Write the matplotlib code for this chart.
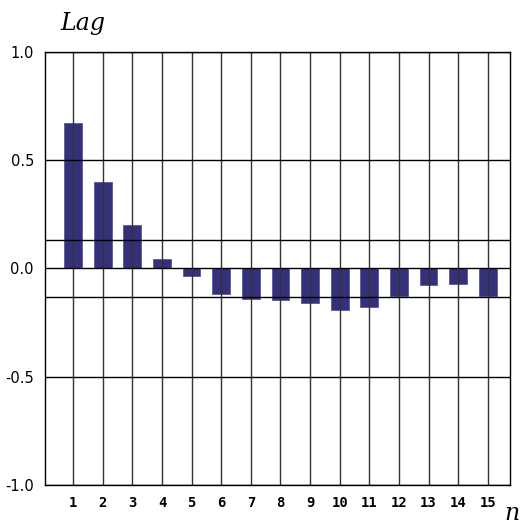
import matplotlib
matplotlib.use("Agg")
import matplotlib.pyplot as plt
import numpy as np

# lag values
lags = list(range(1, 16))
acf = [0.67, 0.40, 0.20, 0.042, -0.037, -0.116, -0.14, -0.144,
       -0.158, -0.19, -0.18, -0.126, -0.075, -0.07, -0.126]
conf = 0.13
yticks = [-1.0, -0.5, 0.0, 0.5, 1.0]
ytick_labels = ["-1.0", "-0.5", "0.0", "0.5", "1.0"]

fig = plt.figure(figsize=(5.25, 5.25), dpi=100)
ax = fig.add_axes([0.0857, 0.0762, 0.8857, 0.8248])

ax.bar(lags, acf, width=0.6, color="#34307a", edgecolor="#5a56a0",
       linewidth=0.6, zorder=2)

# grid drawn over the bars
for x in lags:
    ax.axvline(x, color="#333333", linewidth=1.0, zorder=3)
for y in yticks:
    ax.axhline(y, color="black", linewidth=1.0, zorder=3)
ax.axhline(conf, color="black", linewidth=1.0, zorder=3)
ax.axhline(-conf, color="black", linewidth=1.0, zorder=3)

ax.set_xlim(0.05, 15.75)
ax.set_ylim(-1.0, 1.0)
ax.set_xticks(lags)
ax.set_xticklabels([str(v) for v in lags], fontsize=10, fontweight="bold",
                   family="DejaVu Sans Mono")
ax.set_yticks(yticks)
ax.set_yticklabels(ytick_labels, fontsize=10.5)
ax.tick_params(length=0, pad=8)
for s in ax.spines.values():
    s.set_color("black")
    s.set_linewidth(1.0)
    s.set_zorder(4)

fig.text(0.115, 0.955, "Lag", fontsize=17, style="italic",
         family="DejaVu Serif", ha="left", va="center")
fig.text(0.976, 0.022, "n", fontsize=17, style="italic",
         family="DejaVu Serif", ha="center", va="center")

fig.savefig("out.png", dpi=100)
